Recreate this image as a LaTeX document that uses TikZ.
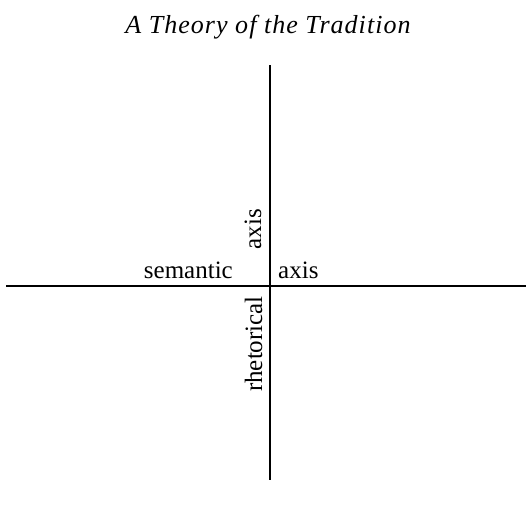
\documentclass[tikz,border=0pt]{standalone}
\usepackage{fontspec}
\setmainfont{Liberation Serif}
\usepackage{tikz}
\usetikzlibrary{positioning,calc}

\begin{document}
\begin{tikzpicture}[
  x=1pt,y=-1pt,
  every node/.style={font=\fontsize{25}{30}\selectfont,inner sep=0pt},
  axisline/.style={line width=1.6pt},
  heading/.style={font=\fontsize{26}{30}\selectfont\itshape\addfontfeatures{LetterSpace=4}}
]
\useasboundingbox (0,0) rectangle (526,507);
\node[heading,anchor=base] (title) at (268,33) {A Theory of the Tradition};
% the two axes
\coordinate (top) at (270,65);
\coordinate (bot) at (270,480);
\coordinate (lft) at (6,286);
\coordinate (rgt) at (526,286);
\draw[axisline] (top) -- (bot);
\draw[axisline] (lft) -- (rgt);
% labels
\node[anchor=base east] (sem) at (233,278) {semantic};
\node[anchor=base west] (hax) at (278,278) {axis};
\node[rotate=90,anchor=base] (vax) at (261,229) {axis};
\node[rotate=90,anchor=base] (rhet) at (262,344) {rhetorical};
\end{tikzpicture}
\end{document}
